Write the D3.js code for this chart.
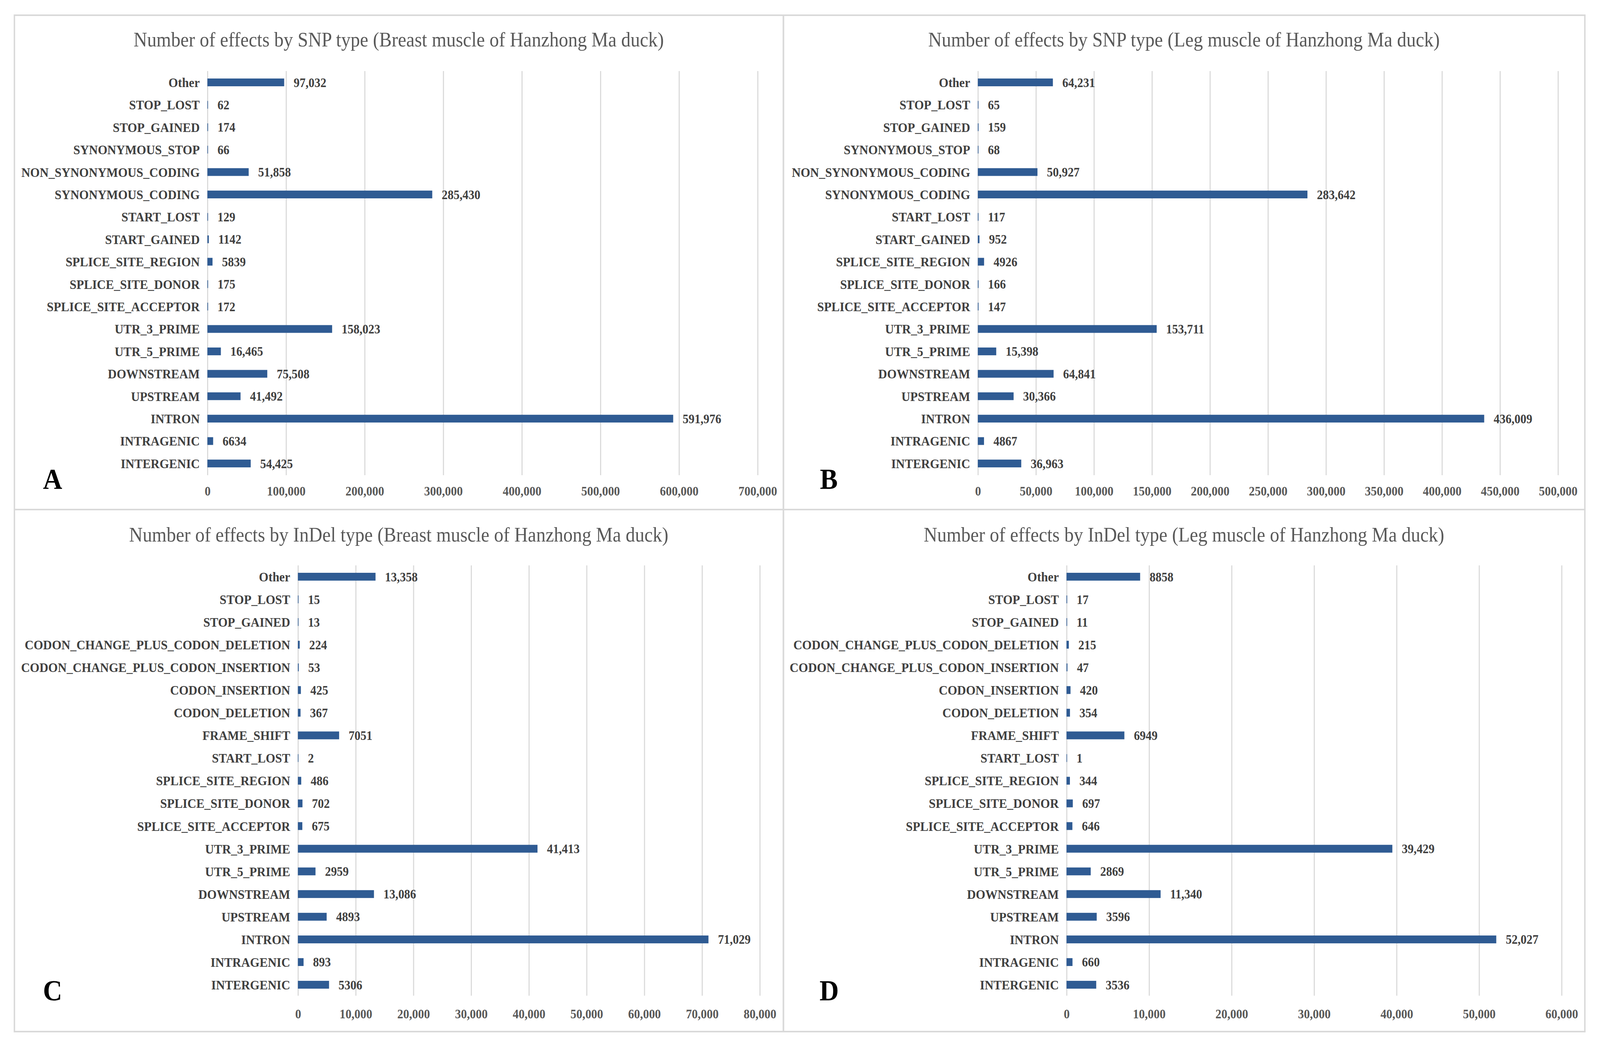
<!DOCTYPE html>
<html>
<head>
<meta charset="utf-8">
<script src="https://cdn.jsdelivr.net/npm/d3@7"></script>
<style>
  html, body { margin: 0; padding: 0; background: #fff; overflow: hidden; }
  svg { display: block; width: 100vw; height: 100vh; }
  text { font-family: "Liberation Serif", "Times New Roman", serif; }
</style>
</head>
<body>
<svg id="chart" viewBox="0 0 4438 2684" preserveAspectRatio="none"></svg>
<script>
// categories, listed top to bottom as in the figure
var snpTypes = ['Other', 'STOP_LOST', 'STOP_GAINED', 'SYNONYMOUS_STOP', 'NON_SYNONYMOUS_CODING',
    'SYNONYMOUS_CODING', 'START_LOST', 'START_GAINED', 'SPLICE_SITE_REGION', 'SPLICE_SITE_DONOR',
    'SPLICE_SITE_ACCEPTOR', 'UTR_3_PRIME', 'UTR_5_PRIME', 'DOWNSTREAM', 'UPSTREAM', 'INTRON',
    'INTRAGENIC', 'INTERGENIC'];
var snpBreast = [97032, 62, 174, 66, 51858, 285430, 129, 1142, 5839, 175, 172, 158023, 16465,
    75508, 41492, 591976, 6634, 54425];
var snpLeg = [64231, 65, 159, 68, 50927, 283642, 117, 952, 4926, 166, 147, 153711, 15398,
    64841, 30366, 436009, 4867, 36963];

var indelTypes = ['Other', 'STOP_LOST', 'STOP_GAINED', 'CODON_CHANGE_PLUS_CODON_DELETION',
    'CODON_CHANGE_PLUS_CODON_INSERTION', 'CODON_INSERTION', 'CODON_DELETION', 'FRAME_SHIFT',
    'START_LOST', 'SPLICE_SITE_REGION', 'SPLICE_SITE_DONOR', 'SPLICE_SITE_ACCEPTOR', 'UTR_3_PRIME',
    'UTR_5_PRIME', 'DOWNSTREAM', 'UPSTREAM', 'INTRON', 'INTRAGENIC', 'INTERGENIC'];
var indelBreast = [13358, 15, 13, 224, 53, 425, 367, 7051, 2, 486, 702, 675, 41413, 2959,
    13086, 4893, 71029, 893, 5306];
var indelLeg = [8858, 17, 11, 215, 47, 420, 354, 6949, 1, 344, 697, 646, 39429, 2869,
    11340, 3596, 52027, 660, 3536];

var ticksA = [0, 100000, 200000, 300000, 400000, 500000, 600000, 700000];
var ticksB = [0, 50000, 100000, 150000, 200000, 250000, 300000, 350000, 400000, 450000, 500000];
var ticksC = [0, 10000, 20000, 30000, 40000, 50000, 60000, 70000, 80000];
var ticksD = [0, 10000, 20000, 30000, 40000, 50000, 60000];

var svg = d3.select('#chart');
svg.append('rect').attr('width', 4438).attr('height', 2684).attr('fill', '#fff');

var barColor = '#2f5b93';
var comma = d3.format(',');

// panel frames
var frames = [
    [40, 39, 2173, 1305], [2173, 39, 4396, 1305],
    [40, 1305, 2173, 2642], [2173, 1305, 4396, 2642]
];
svg.selectAll('rect.frame').data(frames).enter().append('rect')
    .attr('class', 'frame')
    .attr('x', function (d) { return d[0]; })
    .attr('y', function (d) { return d[1]; })
    .attr('width', function (d) { return d[2] - d[0]; })
    .attr('height', function (d) { return d[3] - d[1]; })
    .attr('fill', 'none')
    .attr('stroke', '#d9d9d9')
    .attr('stroke-width', 4);

function panel(opts) {
    var g = svg.append('g');
    var ticks = opts.ticks;
    var x = d3.scaleLinear().domain([0, ticks[ticks.length - 1]]).range([opts.x0, opts.x1]);
    var y = d3.scalePoint().domain(opts.cats).range([opts.yTop, opts.yBot]);
    var barH = y.step() * 0.32;

    // title
    g.append('text')
        .attr('x', opts.titleX).attr('y', opts.titleY)
        .attr('text-anchor', 'middle').attr('dy', '0.35em')
        .attr('font-size', 52).attr('fill', '#595959')
        .text(opts.title);

    // gridlines
    g.selectAll('line.grid').data(ticks).enter().append('line')
        .attr('class', 'grid')
        .attr('x1', function (d) { return x(d); })
        .attr('x2', function (d) { return x(d); })
        .attr('y1', opts.gridTop).attr('y2', opts.gridBot)
        .attr('stroke', '#d9d9d9').attr('stroke-width', 3);

    // x tick labels
    g.selectAll('text.tick').data(ticks).enter().append('text')
        .attr('class', 'tick')
        .attr('x', function (d) { return x(d); })
        .attr('y', opts.tickY).attr('dy', '0.35em')
        .attr('text-anchor', 'middle')
        .attr('font-size', 33).attr('font-weight', 'bold').attr('fill', '#595959')
        .text(function (d) { return comma(d); });

    var rows = opts.cats.map(function (c, i) { return { name: c, value: opts.values[i] }; });

    // bars (thin outline keeps the tiny counts visible, as in the figure)
    g.selectAll('rect.bar').data(rows).enter().append('rect')
        .attr('class', 'bar')
        .attr('x', x(0))
        .attr('y', function (d) { return y(d.name) - barH / 2; })
        .attr('width', function (d) { return x(d.value) - x(0); })
        .attr('height', barH)
        .attr('fill', barColor)
        .attr('stroke', barColor)
        .attr('stroke-width', 1.5);

    // category labels
    g.selectAll('text.cat').data(rows).enter().append('text')
        .attr('class', 'cat')
        .attr('x', opts.x0 - 22)
        .attr('y', function (d) { return y(d.name); })
        .attr('dy', '0.35em')
        .attr('text-anchor', 'end')
        .attr('font-size', 34).attr('font-weight', 'bold').attr('fill', '#404040')
        .text(function (d) { return d.name; });

    // data labels
    g.selectAll('text.val').data(rows).enter().append('text')
        .attr('class', 'val')
        .attr('x', function (d) { return x(d.value) + 27; })
        .attr('y', function (d) { return y(d.name); })
        .attr('dy', '0.35em')
        .attr('font-size', 33).attr('font-weight', 'bold').attr('fill', '#404040')
        .text(function (d) { return d.value >= 10000 ? comma(d.value) : String(d.value); });

    // panel letter
    g.append('text')
        .attr('x', opts.letterX).attr('y', opts.letterY)
        .attr('dy', '0.35em').attr('text-anchor', 'middle')
        .attr('font-size', 74).attr('font-weight', 'bold').attr('fill', '#000')
        .text(opts.letter);
}

panel({
    title: 'Number of effects by SNP type (Breast muscle of Hanzhong Ma duck)',
    cats: snpTypes, values: snpBreast, ticks: ticksA, letter: 'A',
    x0: 576, x1: 2102, yTop: 211, yBot: 1187, gridTop: 182, gridBot: 1217, tickY: 1257,
    titleX: 1106, titleY: 101, letterX: 146, letterY: 1226
});
panel({
    title: 'Number of effects by SNP type (Leg muscle of Hanzhong Ma duck)',
    cats: snpTypes, values: snpLeg, ticks: ticksB, letter: 'B',
    x0: 2713, x1: 4322, yTop: 211, yBot: 1187, gridTop: 182, gridBot: 1217, tickY: 1257,
    titleX: 3284, titleY: 101, letterX: 2299, letterY: 1226
});
panel({
    title: 'Number of effects by InDel type (Breast muscle of Hanzhong Ma duck)',
    cats: indelTypes, values: indelBreast, ticks: ticksC, letter: 'C',
    x0: 827, x1: 2108, yTop: 1477, yBot: 2522, gridTop: 1448, gridBot: 2550, tickY: 2596,
    titleX: 1106, titleY: 1369, letterX: 146, letterY: 2536
});
panel({
    title: 'Number of effects by InDel type (Leg muscle of Hanzhong Ma duck)',
    cats: indelTypes, values: indelLeg, ticks: ticksD, letter: 'D',
    x0: 2959, x1: 4332, yTop: 1477, yBot: 2522, gridTop: 1448, gridBot: 2550, tickY: 2596,
    titleX: 3284, titleY: 1369, letterX: 2300, letterY: 2536
});
</script>
</body>
</html>
